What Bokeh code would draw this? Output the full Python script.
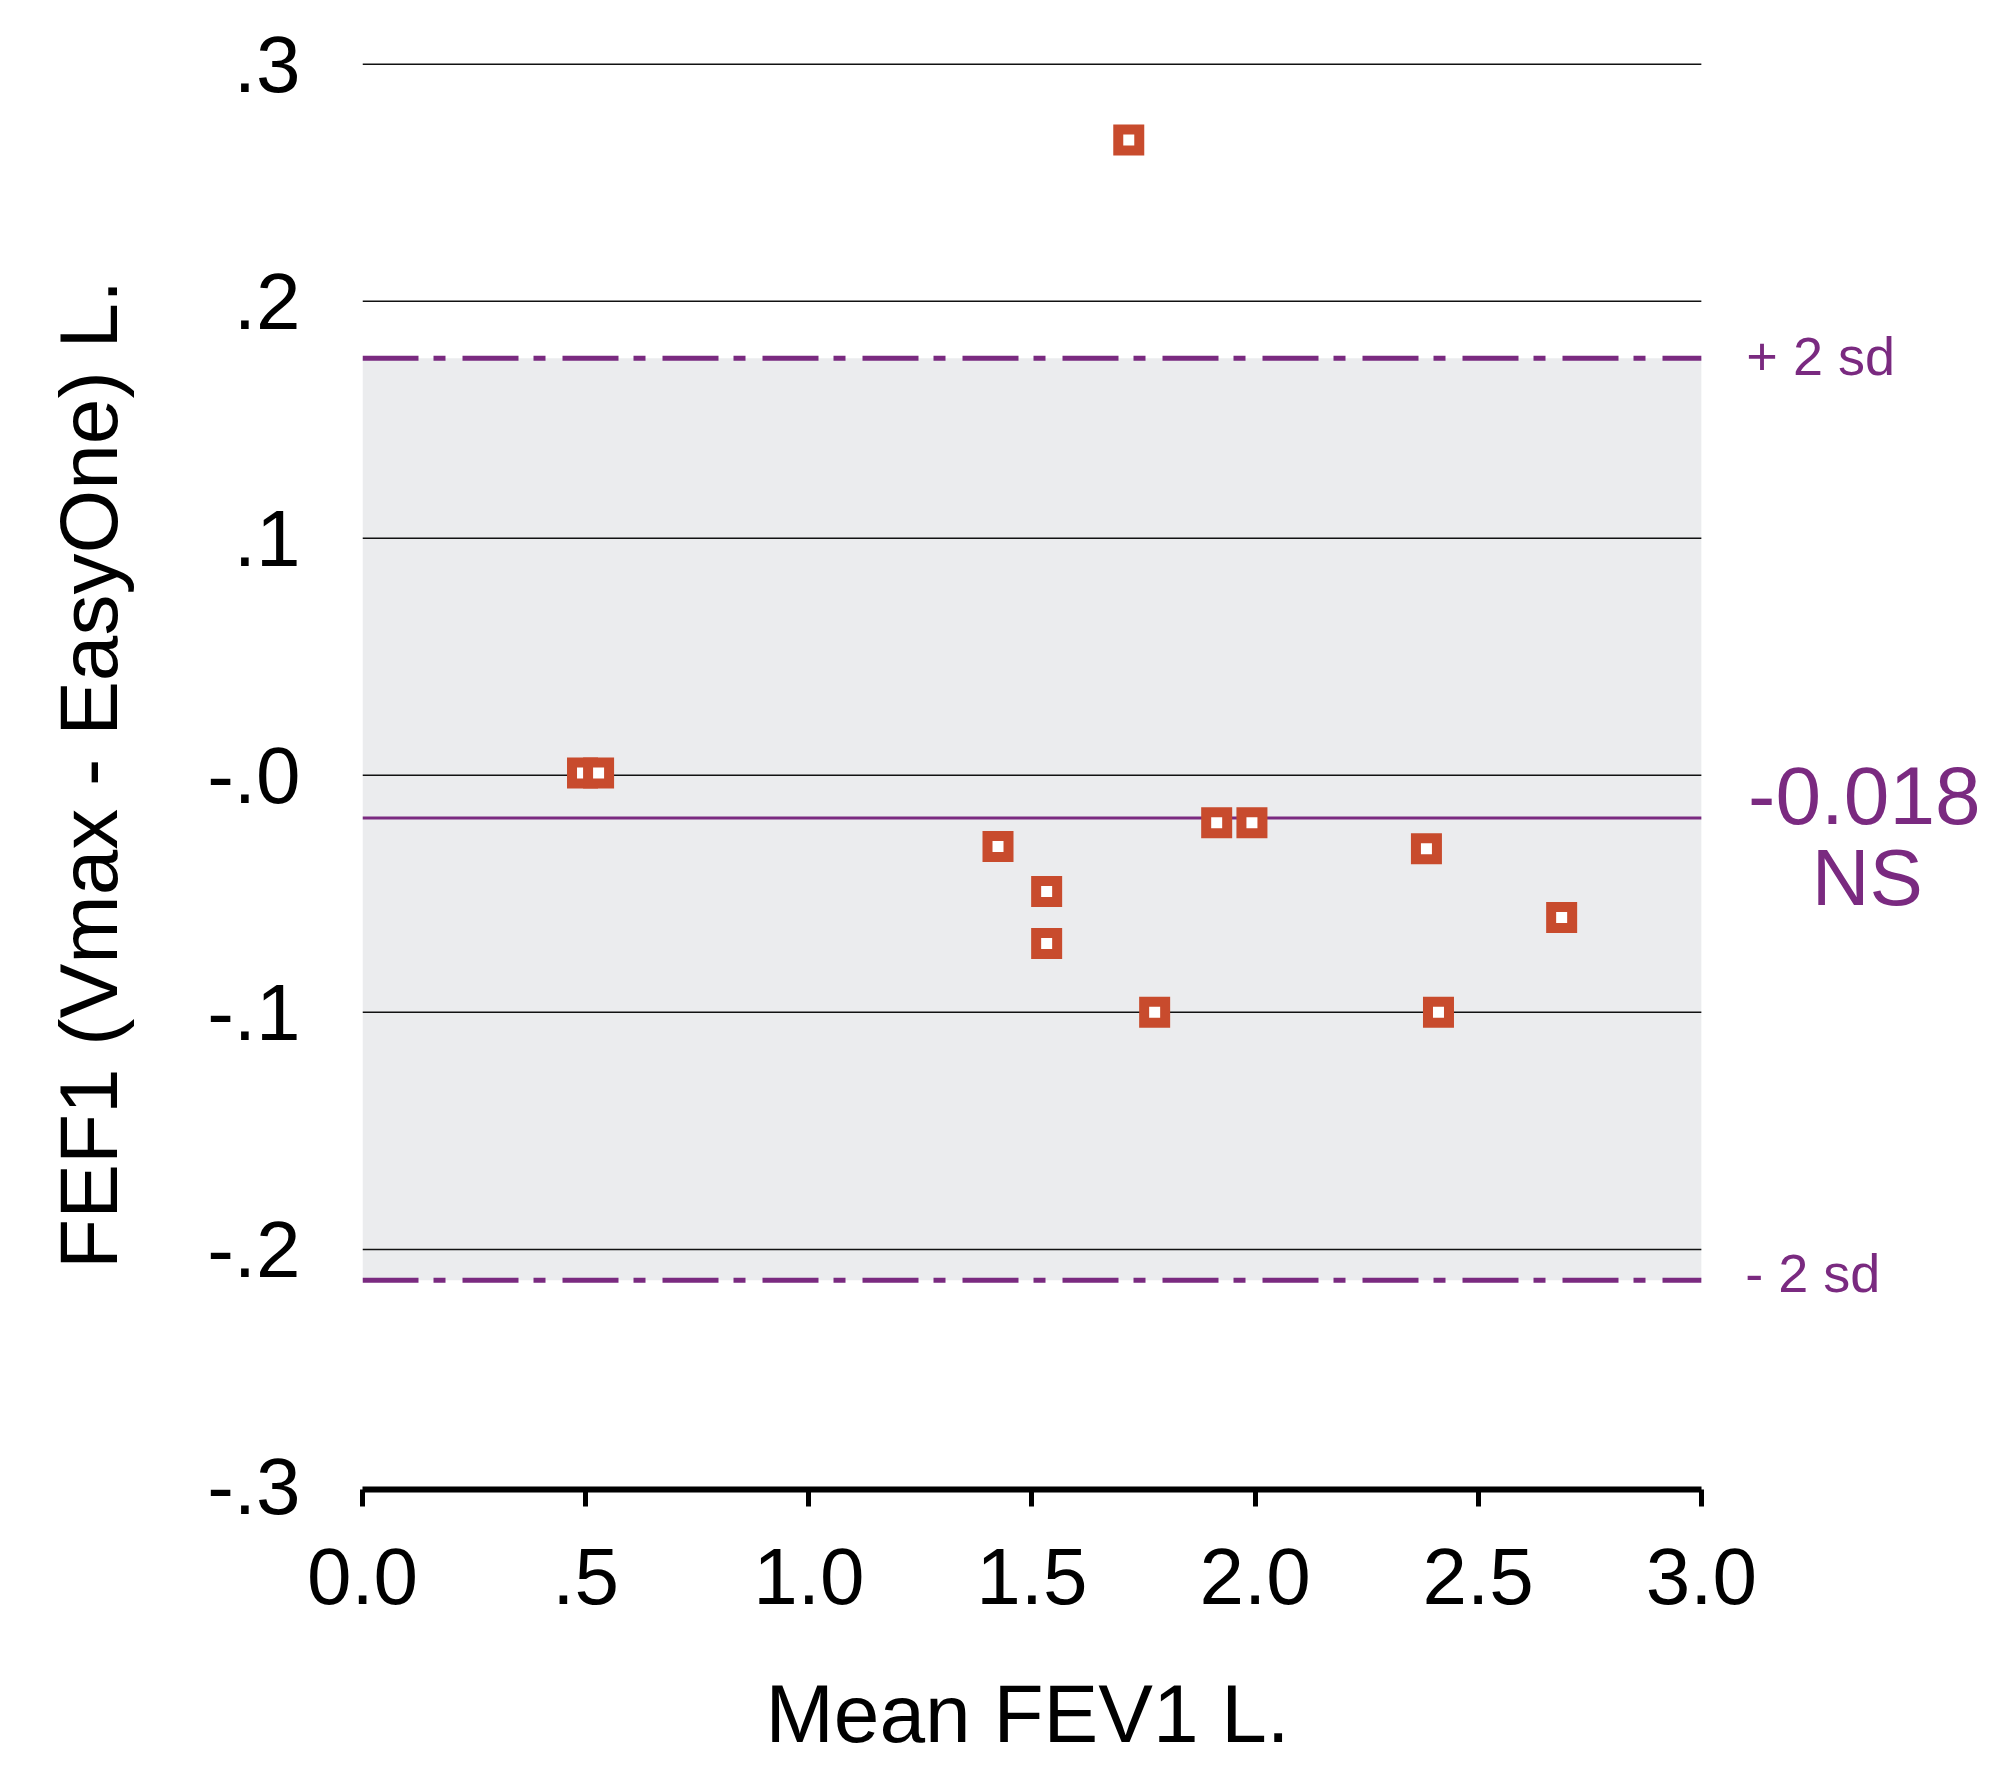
from bokeh.plotting import figure
from bokeh.models import FixedTicker, Range1d, Title
from bokeh.core.properties import value
from bokeh.embed import file_html
from bokeh.resources import INLINE

# ---- data ----
x_mean = [0.493, 0.529, 1.424, 1.533, 1.533, 1.717, 1.775, 1.914, 1.993, 2.384, 2.411, 2.687]
y_diff = [0.001, 0.001, -0.030, -0.049, -0.071, 0.268, -0.100, -0.020, -0.020, -0.031, -0.100, -0.060]

mean_diff = -0.018
upper_2sd = 0.176
lower_2sd = -0.213

x_ticks = [0, 0.5, 1, 1.5, 2, 2.5, 3]
x_tick_labels = ["0.0", ".5", "1.0", "1.5", "2.0", "2.5", "3.0"]
y_ticks = [-0.3, -0.2, -0.1, 0, 0.1, 0.2, 0.3]
y_tick_labels = ["-.3", "-.2", "-.1", "-.0", ".1", ".2", ".3"]

x_title = "Mean FEV1 L."
y_title = "FEF1 (Vmax - EasyOne) L."
upper_text = "+ 2 sd"
lower_text = "- 2 sd"
sig_text = "NS"

FONT = "Liberation Sans"
PURPLE = "#7A2A80"
ORANGE = "#C84B2D"
BAND = "#EBECEE"

x0, x1 = x_ticks[0], x_ticks[-1]

# the frame extends to the right of 3.0 so the side annotations can live in it
p = figure(frame_width=1620, frame_height=1430,
           min_border_left=362, min_border_right=8,
           min_border_top=59, min_border_bottom=279,
           x_range=Range1d(0, 3.63), y_range=Range1d(-0.3013, 0.302),
           output_backend="svg", toolbar_location=None)
p.outline_line_color = None
p.background_fill_color = "white"
p.border_fill_color = "white"
p.xgrid.grid_line_color = None
p.ygrid.grid_line_color = None

# x axis
xa = p.xaxis[0]
xa.bounds = (x0, x1)
xa.ticker = FixedTicker(ticks=x_ticks)
xa.major_label_overrides = dict(zip(x_ticks, x_tick_labels))
xa.axis_line_width = 6
xa.axis_line_color = "black"
xa.major_tick_line_width = 5
xa.major_tick_line_color = "black"
xa.major_tick_in = 0
xa.major_tick_out = 17
xa.minor_tick_line_color = None
xa.major_label_standoff = 42
xa.major_label_text_font = FONT
xa.major_label_text_font_size = "80px"
xa.major_label_text_line_height = 1.0
xa.major_label_text_color = "black"

# x-axis title, centred under the 0..3 span (the frame is wider than that)
p.add_layout(Title(text=x_title, align="left", offset=403, standoff=118,
                   text_font=FONT, text_font_size="82px", text_font_style="normal",
                   text_line_height=0.8, text_color="black"), "below")

# y axis
ya = p.yaxis[0]
ya.ticker = FixedTicker(ticks=y_ticks)
ya.major_label_overrides = dict(zip(y_ticks, y_tick_labels))
ya.axis_line_color = None
ya.major_tick_line_color = None
ya.minor_tick_line_color = None
ya.major_tick_in = 0
ya.major_tick_out = 0
ya.major_label_standoff = 62
ya.major_label_text_font = FONT
ya.major_label_text_font_size = "80px"
ya.major_label_text_color = "black"
ya.axis_label = y_title
ya.axis_label_text_font = FONT
ya.axis_label_text_font_size = "82px"
ya.axis_label_text_font_style = "normal"
ya.axis_label_text_color = "black"
ya.axis_label_standoff = 70

# limits-of-agreement band
p.quad(left=[x0], right=[x1], bottom=[lower_2sd], top=[upper_2sd],
       fill_color=BAND, line_color=None)

# horizontal grid lines, limited to the x span 0..3 (none at the axis itself)
grid_y = y_ticks[1:]
p.segment(x0=[x0] * len(grid_y), x1=[x1] * len(grid_y), y0=grid_y, y1=grid_y,
          line_color="#111111", line_width=1.5)

# mean difference line
p.line(x=[x0, x1], y=[mean_diff, mean_diff], line_color=PURPLE, line_width=3)

# +/- 2 sd lines
for lim in (upper_2sd, lower_2sd):
    p.line(x=[x0, x1], y=[lim, lim], line_color=PURPLE, line_width=5,
           line_dash="56 15 12 17")

# data points
p.scatter(x=x_mean, y=y_diff, marker="square", size=21, line_width=10,
          line_color=ORANGE, fill_color="white", line_join="miter")

# right-side annotations, anchored at the right end of the x span
p.text(x=[x1, x1], y=[upper_2sd, lower_2sd], text=[upper_text, lower_text],
       x_offset=[45, 44], y_offset=[-2, -7],
       text_font=value(FONT), text_font_size=value("54px"), text_color=PURPLE,
       text_align="left", text_baseline="middle")
p.text(x=[x1], y=[mean_diff], text=[f"{mean_diff:.3f}"], x_offset=163, y_offset=-22,
       text_font=value(FONT), text_font_size=value("82px"), text_color=PURPLE,
       text_align="center", text_baseline="middle")
p.text(x=[x1], y=[mean_diff], text=[sig_text], x_offset=166, y_offset=60,
       text_font=value(FONT), text_font_size=value("80px"), text_color=PURPLE,
       text_align="center", text_baseline="middle")

open("out.html", "w").write(file_html(p, INLINE))
